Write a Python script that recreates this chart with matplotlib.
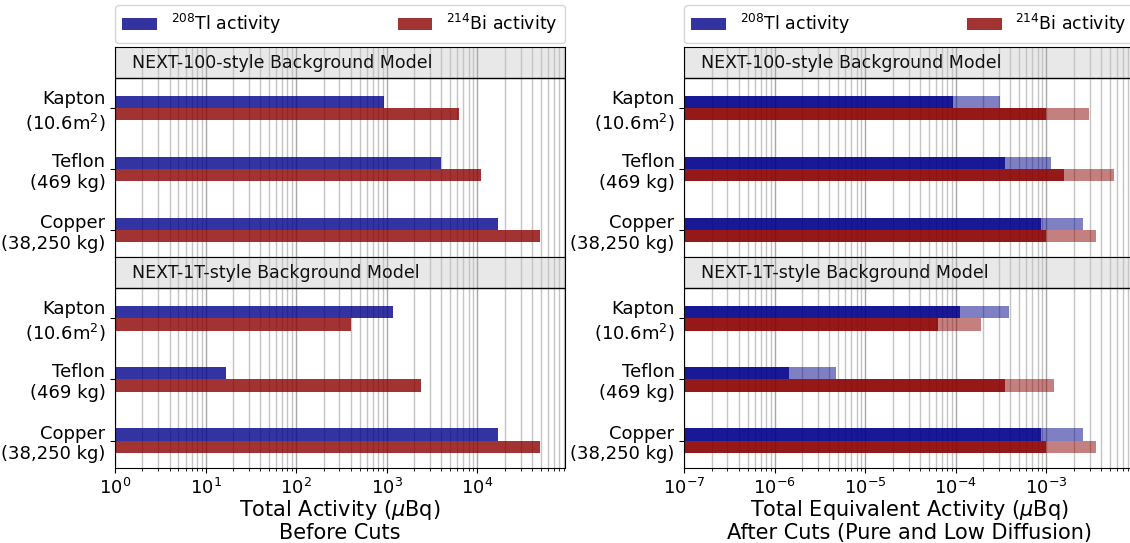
import matplotlib
matplotlib.use("Agg")
import matplotlib.pyplot as plt
import matplotlib.transforms as mtransforms
import numpy as np

plt.rcParams['font.family'] = ['DejaVu Sans']

categories = ["Kapton\n(10.6m$^2$)", "Teflon\n(469 kg)", "Copper\n(38,250 kg)"]
models = ["NEXT-100-style Background Model", "NEXT-1T-style Background Model"]

# Before cuts (total activity, uBq)
before_tl_100 = [931, 3980, 16800]
before_bi_100 = [6250, 11000, 49200]
before_tl_1t = [1161, 16.6, 16800]
before_bi_1t = [404, 2370, 49200]

# After cuts (equivalent activity, uBq): pure (dark) and low diffusion (light)
after_tl_pure_100 = [9.2e-5, 3.53e-4, 8.8e-4]
after_tl_low_100 = [3.1e-4, 1.13e-3, 2.54e-3]
after_bi_pure_100 = [1.0e-3, 1.58e-3, 9.8e-4]
after_bi_low_100 = [2.97e-3, 5.6e-3, 3.49e-3]
after_tl_pure_1t = [1.11e-4, 1.44e-6, 8.8e-4]
after_tl_low_1t = [3.87e-4, 4.77e-6, 2.54e-3]
after_bi_pure_1t = [6.4e-5, 3.53e-4, 9.8e-4]
after_bi_low_1t = [1.9e-4, 1.22e-3, 3.49e-3]

legend_labels = ["$^{208}$Tl activity", "$^{214}$Bi activity"]
xlabels = ["Total Activity ($\\mu$Bq)\nBefore Cuts",
           "Total Equivalent Activity ($\\mu$Bq)\nAfter Cuts (Pure and Low Diffusion)"]

TL = 'darkblue'
BI = 'darkred'

W, H = 1130, 543
fig = plt.figure(figsize=(W / 100, H / 100), dpi=100)

def px_axes(x0, y0, x1, y1):
    return fig.add_axes([x0 / W, 1 - y1 / H, (x1 - x0) / W, (y1 - y0) / H])

cols = [(115.2, 565.0), (684.3, 1134.1)]
rows = [(47.3, 257.3), (257.3, 468.0)]
xlims = [(1, 9.3e4), (1e-7, 9.3e-3)]

ypos = np.arange(len(categories))
bh = 0.2

data_left = [(before_tl_100, before_bi_100), (before_tl_1t, before_bi_1t)]
data_right = [((after_tl_pure_100, after_tl_low_100), (after_bi_pure_100, after_bi_low_100)),
              ((after_tl_pure_1t, after_tl_low_1t), (after_bi_pure_1t, after_bi_low_1t))]

for c, (cx0, cx1) in enumerate(cols):
    for r, (ry0, ry1) in enumerate(rows):
        ax = px_axes(cx0, ry0, cx1, ry1)
        ax.set_xscale('log')
        lo = xlims[c][0]
        if c == 0:
            tl, bi = data_left[r]
            h1 = ax.barh(ypos - bh, tl, height=bh, align='edge', left=lo / 10,
                         color=TL, alpha=0.8, zorder=2)
            h2 = ax.barh(ypos, bi, height=bh, align='edge', left=lo / 10,
                         color=BI, alpha=0.8, zorder=2)
        else:
            (tlp, tll), (bip, bil) = data_right[r]
            ax.barh(ypos - bh, tll, height=bh, align='edge', left=lo / 10,
                    color=TL, alpha=0.5, zorder=2)
            ax.barh(ypos, bil, height=bh, align='edge', left=lo / 10,
                    color=BI, alpha=0.5, zorder=2)
            h1 = ax.barh(ypos - bh, tlp, height=bh, align='edge', left=lo / 10,
                         color=TL, alpha=0.8, zorder=2.1)
            h2 = ax.barh(ypos, bip, height=bh, align='edge', left=lo / 10,
                         color=BI, alpha=0.8, zorder=2.1)
        ax.set_xlim(*xlims[c])
        ax.set_ylim(2.45, -1.0)
        # header band
        ax.axhspan(-1.0, -0.5, facecolor='#e8e8e8', edgecolor='none', zorder=0.2)
        ax.axhline(-0.5, color='black', lw=1.0, zorder=3)
        trans = mtransforms.blended_transform_factory(ax.transAxes, ax.transData)
        ax.text(0.037, -0.75, models[r], transform=trans, ha='left', va='center',
                fontsize=12.5, color='#111111', zorder=4)
        ax.set_axisbelow(True)
        ax.grid(True, which='major', axis='x', color='#a8a8a8', lw=1.0)
        ax.grid(True, which='minor', axis='x', color='#c4c4c4', lw=1.0)
        ax.set_yticks(ypos)
        ax.set_yticklabels(categories, fontsize=13)
        ax.tick_params(axis='x', labelsize=13)
        if r == 0:
            ax.tick_params(axis='x', which='both', labelbottom=False, bottom=False)
            ax.legend([h1, h2], legend_labels, loc='lower left',
                      bbox_to_anchor=(0, 1.02, 1, 0.2), mode='expand', ncol=2,
                      borderaxespad=0, fontsize=12.5)
        else:
            ax.set_xlabel(xlabels[c], fontsize=15, labelpad=0, linespacing=1.05)

fig.savefig('out.png', dpi=100)
